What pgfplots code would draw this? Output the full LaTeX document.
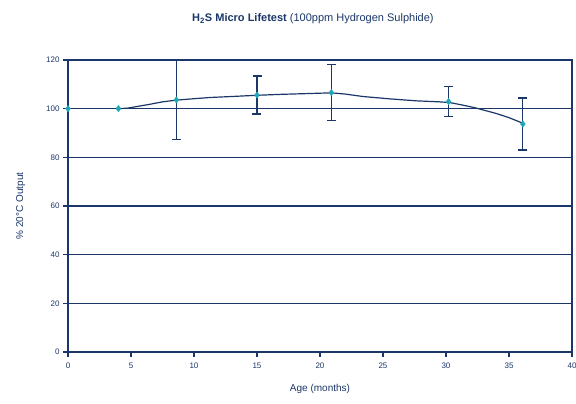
\documentclass[border=0pt]{standalone}
\usepackage{fontspec}
\setmainfont{Liberation Sans}
\usepackage{pgfplots}
\pgfplotsset{compat=1.18}
\definecolor{navy}{HTML}{1B3668}
\definecolor{teal}{HTML}{1FA7B8}

\begin{document}
\begin{tikzpicture}
\useasboundingbox (-68pt,-52pt) rectangle (508pt,352pt);
\begin{axis}[
    at={(0,0)}, anchor=south west,
    scale only axis,
    width=504pt, height=292pt,
    xmin=0, xmax=40, ymin=0, ymax=120,
    xtick={0,5,...,40}, ytick={0,20,...,120},
    axis line style={navy, line width=1.2pt},
    tick style={navy, line width=1.2pt},
    tick align=outside,
    major tick length=5pt,
    xtick pos=bottom, ytick pos=left,
    ymajorgrids,
    grid style={navy, line width=1.2pt},
    ticklabel style={font=\fontsize{8}{10}\selectfont, text=navy},
    xticklabel style={yshift=-2pt},
    /pgf/number format/assume math mode=true,
    xlabel={Age (months)},
    ylabel={\% 20°C Output},
    label style={font=\fontsize{10}{12}\selectfont, text=navy},
    xlabel style={yshift=-9pt},
    ylabel style={yshift=14pt},
    clip=false,
]
% trend line
\addplot[navy, line width=1.2pt] coordinates {
    (4,100) (4.7,100.2) (5.5,100.9) (6.5,101.8) (7.5,102.8) (8.6,103.5)
    (10,104.1) (11.3,104.6) (13,105.0) (15,105.5) (17,105.9) (19,106.2)
    (20.9,106.5) (22,106.0) (23.4,105.0) (25.6,104.0) (27.7,103.2)
    (29.5,102.8) (30.3,102.5) (31.2,101.6) (32.2,100.5) (33,99.4)
    (34,98.0) (35,96.3) (36.2,93.8)
};
% measured points with error bars
\addplot[only marks, mark=diamond*, mark size=3.2pt,
    mark options={fill=teal, draw=teal},
    error bars/.cd, y dir=both, y explicit,
    error bar style={navy, line width=1.2pt},
    error mark options={navy, line width=1.2pt, mark size=4.5pt, rotate=90}]
    coordinates {
    (0,100)
    (4,100)
    (8.6,103.6) +- (0,16.4)
    (15,105.6) +- (0,7.8)
    (20.9,106.6) +- (0,11.6)
    (30.2,102.9) +- (0,6.2)
    (36.1,93.7) +- (0,10.7)
};
\node[text=navy, font=\fontsize{11}{13}\selectfont] at (rel axis cs:0.486,1.14)
    {\textbf{H\textsubscript{2}S Micro Lifetest} (100ppm Hydrogen Sulphide)};
\end{axis}
\end{tikzpicture}
\end{document}
